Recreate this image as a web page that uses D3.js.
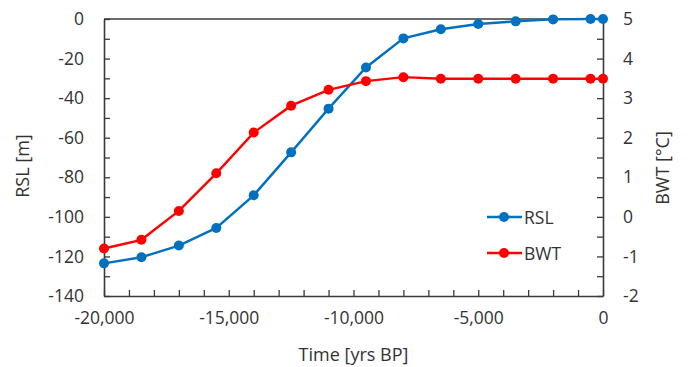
<!DOCTYPE html>
<html>
<head>
<meta charset="utf-8">
<script src="https://cdn.jsdelivr.net/npm/d3@7"></script>
<style>
  body { margin: 0; background: #fff; }
  svg text { font-family: "Open Sans", sans-serif; fill: #333; }
</style>
</head>
<body>
<div id="chart"></div>
<script>
// time in years BP
const years = [-20000, -18500, -17000, -15500, -14000, -12500, -11000, -9500,
               -8000, -6500, -5000, -3500, -2000, -500, 0];
// relative sea level [m]
const rsl = [-123.5, -120.4, -114.5, -105.6, -89.1, -67.4, -45.3, -24.5,
             -9.8, -5.2, -2.5, -1.2, -0.2, 0, 0];
// bottom water temperature [°C]
const bwt = [-0.8, -0.58, 0.15, 1.1, 2.13, 2.81, 3.21, 3.43,
             3.53, 3.49, 3.49, 3.49, 3.49, 3.49, 3.49];

const xTicks = [-20000, -15000, -10000, -5000, 0];
const rslTicks = [0, -20, -40, -60, -80, -100, -120, -140];
const bwtTicks = [-2, -1, 0, 1, 2, 3, 4, 5];

const cfg = {
    width: 688,
    height: 367,
    margin: { top: 19, right: 85, bottom: 71, left: 104 },
    blue: "#0070c0",
    red: "#ff0000",
    axis: "#3a3a3a"
};

const w = cfg.width - cfg.margin.left - cfg.margin.right,
    h = cfg.height - cfg.margin.top - cfg.margin.bottom;

const svg = d3.select("#chart").append("svg")
    .attr("width", cfg.width)
    .attr("height", cfg.height);

const g = svg.append("g")
    .attr("transform", "translate(" + cfg.margin.left + "," + cfg.margin.top + ")");

const x = d3.scaleLinear().domain([-20000, 0]).range([0, w]);
const yL = d3.scaleLinear().domain([-140, 0]).range([h, 0]);
const yR = d3.scaleLinear().domain([-2, 5]).range([h, 0]);

const fmt = d3.format(",");

// minor ticks drawn inside the plot
function styleAxis(sel) {
    sel.select(".domain").attr("stroke", cfg.axis).attr("stroke-width", 1.6);
    sel.selectAll(".tick line").attr("stroke", cfg.axis).attr("stroke-width", 1.3);
    sel.selectAll(".tick text").attr("font-size", "17.5px").style("fill", "#333");
}

// bottom axis
const xAx = g.append("g")
    .attr("transform", "translate(0," + h + ")")
    .call(d3.axisBottom(x).tickValues(d3.range(-20000, 1, 1000))
        .tickSize(-6).tickPadding(16).tickSizeOuter(0)
        .tickFormat(d => xTicks.includes(d) ? fmt(d).replace("−", "-") : ""));
styleAxis(xAx);

// left axis
const lAx = g.append("g")
    .call(d3.axisLeft(yL).tickValues(d3.range(-140, 1, 10))
        .tickSize(-6).tickPadding(20).tickSizeOuter(0)
        .tickFormat(d => rslTicks.includes(d) ? String(d) : ""));
styleAxis(lAx);

// right axis
const rAx = g.append("g")
    .attr("transform", "translate(" + w + ",0)")
    .call(d3.axisRight(yR).tickValues(d3.range(-2, 5.01, 0.5))
        .tickSize(-6).tickPadding(20).tickSizeOuter(0)
        .tickFormat(d => bwtTicks.includes(d) ? String(d) : ""));
styleAxis(rAx);

// top border
g.append("line")
    .attr("x1", 0).attr("x2", w).attr("y1", 0).attr("y2", 0)
    .attr("stroke", cfg.axis).attr("stroke-width", 1.6);

// axis titles
svg.append("text")
    .attr("x", cfg.margin.left + w / 2).attr("y", 361)
    .attr("text-anchor", "middle").attr("font-size", "18px")
    .text("Time [yrs BP]");

svg.append("text")
    .attr("transform", "translate(29,166) rotate(-90)")
    .attr("text-anchor", "middle").attr("font-size", "18px")
    .text("RSL [m]");

svg.append("text")
    .attr("transform", "translate(669,168) rotate(-90)")
    .attr("text-anchor", "middle").attr("font-size", "18px")
    .text("BWT [°C]");

// series
const series = [
    { name: "RSL", values: rsl, y: yL, color: cfg.blue },
    { name: "BWT", values: bwt, y: yR, color: cfg.red }
];

series.forEach(s => {
    const pts = years.map((t, i) => [t, s.values[i]]);
    g.append("path")
        .datum(pts)
        .attr("fill", "none")
        .attr("stroke", s.color)
        .attr("stroke-width", 2.4)
        .attr("d", d3.line().x(d => x(d[0])).y(d => s.y(d[1])));
    g.selectAll(".pt-" + s.name).data(pts).enter()
        .append("circle")
        .attr("cx", d => x(d[0]))
        .attr("cy", d => s.y(d[1]))
        .attr("r", 5)
        .attr("fill", s.color);
});

// legend
const leg = svg.append("g").attr("transform", "translate(487,217)");
series.forEach((s, i) => {
    const row = leg.append("g").attr("transform", "translate(0," + (i * 36) + ")");
    row.append("line").attr("x1", 0).attr("x2", 35).attr("y1", 0).attr("y2", 0)
        .attr("stroke", s.color).attr("stroke-width", 2.4);
    row.append("circle").attr("cx", 17).attr("cy", 0).attr("r", 5).attr("fill", s.color);
    row.append("text").attr("x", 37).attr("y", 6.5)
        .attr("font-size", "17.5px").text(s.name);
});
</script>
</body>
</html>
